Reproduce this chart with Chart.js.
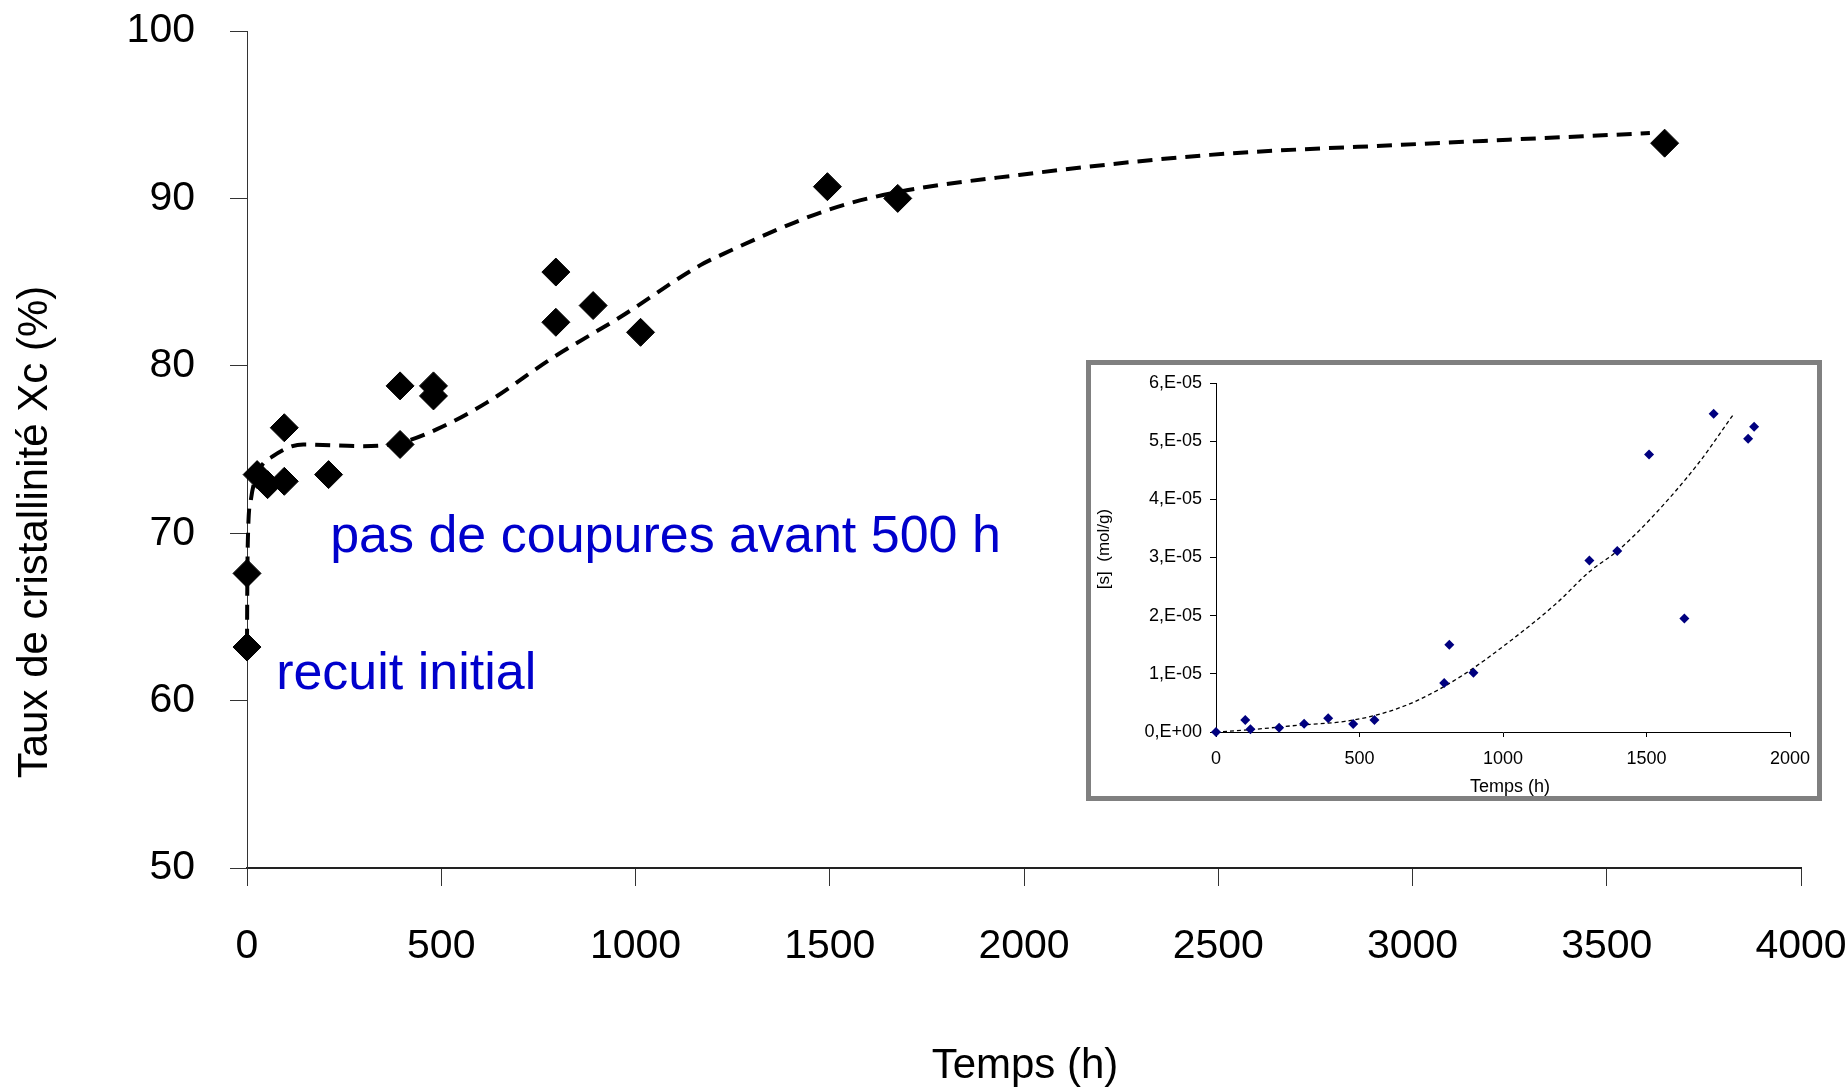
<!DOCTYPE html>
<html>
<head>
<meta charset="utf-8">
<title>Taux de cristallinité</title>
<script src="https://cdn.jsdelivr.net/npm/chart.js@4.4.1/dist/chart.umd.min.js"></script>
<style>
  html, body { margin: 0; padding: 0; background: #fff; }
  #wrap { position: relative; width: 1845px; height: 1090px; overflow: hidden; }
  #main { position: absolute; left: 0; top: 0; display: block; }
  #insetBox {
    position: absolute; left: 1086px; top: 360px; width: 736px; height: 441px;
    box-sizing: border-box; border: 5px solid #808080; background: #fff;
  }
  #inset { display: block; }
</style>
</head>
<body>
<div id="wrap">
  <canvas id="main" width="1845" height="1090"></canvas>
  <div id="insetBox"><canvas id="inset" width="726" height="431"></canvas></div>
</div>
<script>
// main chart : crystallinity vs ageing time
const hours = [0, 0, 26, 53, 96, 96, 210, 394, 394, 480, 480, 795, 795, 891, 1013, 1494, 1675, 3649]
const crystallinity = [63.2, 67.6, 73.5, 72.9, 73.1, 76.3, 73.5, 78.8, 75.3, 78.8, 78.2, 85.6, 82.6, 83.6, 82.0, 90.7, 90.0, 93.3]

// dashed trend drawn through the picture
const fitHours = [0, 1, 3, 10, 30, 67, 145, 299, 394, 488, 617, 788, 960, 1166, 1218, 1494, 1658, 1987, 2479, 2972, 3611]
const fitCrystallinity = [63.4, 67.6, 70.2, 72.0, 73.7, 74.6, 75.3, 75.2, 75.4, 76.2, 77.8, 80.5, 82.9, 86.0, 86.6, 89.3, 90.3, 91.4, 92.6, 93.2, 93.9]

const xTicks = { min: 0, max: 4000, step: 500 }
const yTicks = { min: 50, max: 100, step: 10 }

// inset : chain scissions [s] (mol/g)
const insetHours = [0, 102, 120, 220, 307, 391, 478, 552, 795, 813, 897, 1301, 1398, 1509, 1632, 1734, 1854, 1875]
const scissions = [0, 2.06e-6, 0.46e-6, 0.75e-6, 1.43e-6, 2.35e-6, 1.38e-6, 2.06e-6, 8.42e-6, 15.0e-6, 10.2e-6, 29.5e-6, 31.1e-6, 47.7e-6, 19.5e-6, 54.7e-6, 50.4e-6, 52.5e-6]

const insetFitHours = [0, 120, 284, 449, 564, 695, 859, 1024, 1188, 1302, 1398, 1517, 1681, 1800]
const insetFitScissions = [0, 0.4e-6, 1.15e-6, 1.83e-6, 2.98e-6, 5.27e-6, 9.74e-6, 15.6e-6, 22.2e-6, 27.6e-6, 31.1e-6, 36.8e-6, 46.2e-6, 54.4e-6]

const insetXTicks = { min: 0, max: 2000, step: 500 }
const insetYTicks = { min: 0, max: 6e-5, step: 1e-5 }

const FONT = "'Liberation Sans', Arial, sans-serif"
Chart.defaults.font.family = FONT
Chart.defaults.color = '#000'

const toPoints = (xs, ys) => xs.map((x, i) => ({ x, y: ys[i] }))

// plain text drawn over the canvas: axis titles and notes
const textPlugin = {
  id: 'texts',
  afterDraw(chart, args, opts) {
    const ctx = chart.ctx
    ctx.save()
    ;(opts.items || []).forEach((it) => {
      ctx.font = it.font
      ctx.fillStyle = it.color || '#000'
      ctx.textAlign = it.align || 'center'
      ctx.textBaseline = it.baseline || 'middle'
      let x = it.x
      let y = it.y
      if (it.data) {
        x = chart.scales.x.getPixelForValue(it.data[0])
        y = chart.scales.y.getPixelForValue(it.data[1])
      }
      ctx.save()
      ctx.translate(x, y)
      if (it.rotate) ctx.rotate(it.rotate)
      ctx.fillText(it.text, 0, 0)
      ctx.restore()
    })
    ctx.restore()
  }
}

function sciLabel(v) {
  if (Math.abs(v) < 1e-12) return '0,E+00'
  const e = Math.floor(Math.log10(v) + 1e-9)
  const m = Math.round(v / Math.pow(10, e))
  return `${m},E-${String(-e).padStart(2, '0')}`
}

// fixed axis sizes, no extra room for overhanging labels
const fixY = (w) => (s) => { s.width = w; s.paddingTop = 0; s.paddingBottom = 0 }
const fixX = (h) => (s) => { s.height = h; s.paddingLeft = 0; s.paddingRight = 0 }

new Chart(document.getElementById('main'), {
  type: 'scatter',
  data: {
    datasets: [
      {
        data: toPoints(hours, crystallinity),
        pointStyle: 'rectRot',
        pointRadius: 14,
        pointHoverRadius: 14,
        backgroundColor: '#000',
        borderColor: '#000',
        borderWidth: 1,
        clip: false
      },
      {
        type: 'line',
        data: toPoints(fitHours, fitCrystallinity),
        borderColor: '#000',
        borderWidth: 4,
        borderDash: [15, 9],
        pointRadius: 0,
        fill: false,
        clip: false,
        cubicInterpolationMode: 'monotone'
      }
    ]
  },
  options: {
    responsive: false,
    animation: false,
    devicePixelRatio: 1,
    layout: { padding: { top: 31, right: 44, left: 0, bottom: 0 } },
    scales: {
      x: {
        type: 'linear',
        min: xTicks.min,
        max: xTicks.max,
        afterFit: fixX(222),
        ticks: { stepSize: xTicks.step, font: { size: 41 }, padding: 36, maxRotation: 0, color: '#000', callback: (v) => String(v) },
        grid: { drawOnChartArea: false, tickLength: 18, color: '#333' },
        border: { color: '#222', width: 2 }
      },
      y: {
        min: yTicks.min,
        max: yTicks.max,
        afterFit: fixY(247),
        ticks: { stepSize: yTicks.step, font: { size: 41 }, padding: 35, color: '#000', callback: (v) => String(v) },
        grid: { drawOnChartArea: false, tickLength: 17, color: '#333' },
        border: { color: '#333', width: 1 }
      }
    },
    plugins: {
      legend: { display: false },
      tooltip: { enabled: false },
      texts: {
        items: [
          { text: 'Temps (h)', x: 1025, y: 1066, font: `42px ${FONT}` },
          { text: 'Taux de cristallinité Xc (%)', x: 35, y: 532, font: `42px ${FONT}`, rotate: -Math.PI / 2 },
          { text: 'pas de coupures avant 500 h', data: [214, 68.9], font: `52px ${FONT}`, color: '#0000CC', align: 'left', baseline: 'alphabetic' },
          { text: 'recuit initial', data: [75, 60.7], font: `52px ${FONT}`, color: '#0000CC', align: 'left', baseline: 'alphabetic' }
        ]
      }
    }
  },
  plugins: [textPlugin]
})

new Chart(document.getElementById('inset'), {
  type: 'scatter',
  data: {
    datasets: [
      {
        data: toPoints(insetHours, scissions),
        pointStyle: 'rectRot',
        pointRadius: 5,
        pointHoverRadius: 5,
        backgroundColor: '#00007F',
        borderColor: '#00007F',
        borderWidth: 0,
        clip: false
      },
      {
        type: 'line',
        data: toPoints(insetFitHours, insetFitScissions),
        borderColor: '#000',
        borderWidth: 1.3,
        borderDash: [4, 3],
        pointRadius: 0,
        fill: false,
        clip: false,
        cubicInterpolationMode: 'monotone'
      }
    ]
  },
  options: {
    responsive: false,
    animation: false,
    devicePixelRatio: 1,
    layout: { padding: { top: 18, right: 27, left: 0, bottom: 0 } },
    scales: {
      x: {
        type: 'linear',
        min: insetXTicks.min,
        max: insetXTicks.max,
        afterFit: fixX(64),
        ticks: { stepSize: insetXTicks.step, font: { size: 18 }, padding: 11, maxRotation: 0, color: '#000', callback: (v) => String(v) },
        grid: { drawOnChartArea: false, tickLength: 5, color: '#000' },
        border: { color: '#000', width: 1 }
      },
      y: {
        min: insetYTicks.min,
        max: insetYTicks.max,
        afterFit: fixY(125),
        ticks: { stepSize: insetYTicks.step, font: { size: 18 }, padding: 8, color: '#000', callback: (v) => sciLabel(v) },
        grid: { drawOnChartArea: false, tickLength: 6, color: '#000' },
        border: { color: '#000', width: 1 }
      }
    },
    plugins: {
      legend: { display: false },
      tooltip: { enabled: false },
      texts: {
        items: [
          { text: 'Temps (h)', x: 419, y: 422, font: `18px ${FONT}` },
          { text: '[s]  (mol/g)', x: 13, y: 184, font: `17px ${FONT}`, rotate: -Math.PI / 2 }
        ]
      }
    }
  },
  plugins: [textPlugin]
})
</script>
</body>
</html>
